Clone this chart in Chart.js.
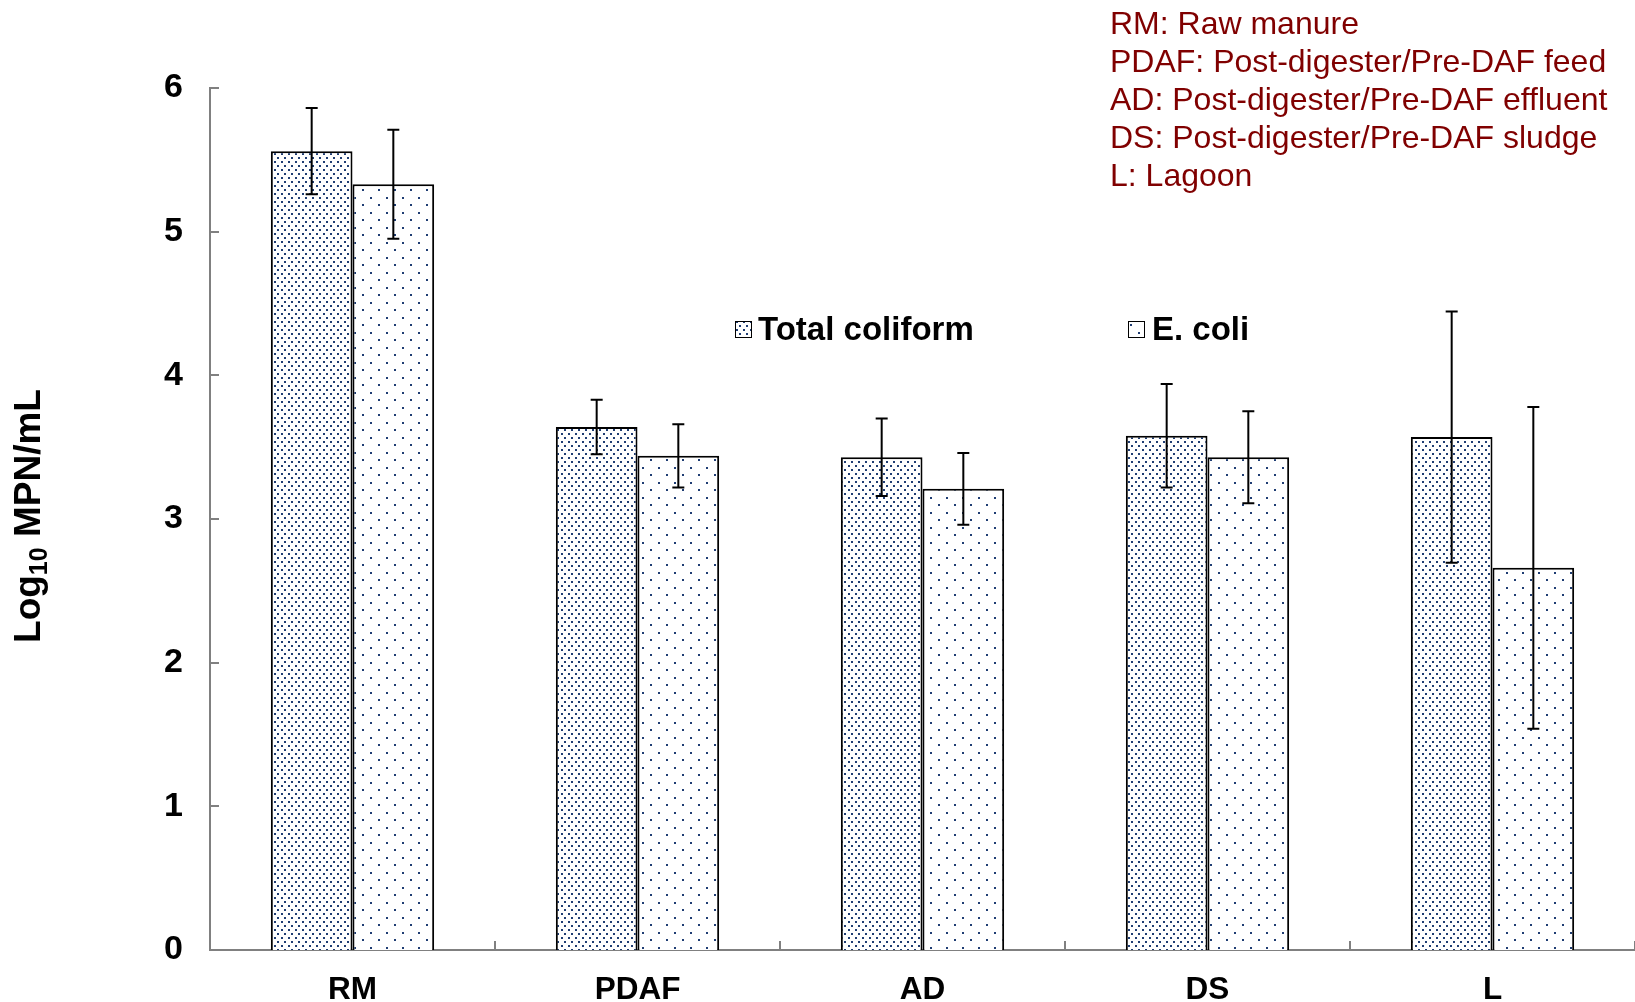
<!DOCTYPE html>
<html>
<head>
<meta charset="utf-8">
<script src="https://cdn.jsdelivr.net/npm/chart.js@4"></script>
<style>
html,body{margin:0;padding:0;background:#fff;}
canvas{display:block;}
</style>
</head>
<body>
<canvas id="c" width="1635" height="1002"></canvas>
<script>
const categories = ['RM', 'PDAF', 'AD', 'DS', 'L'];
const seriesNames = ['Total coliform', 'E. coli'];
const totalColiform = [5.56, 3.64, 3.43, 3.58, 3.57];
const totalColiformErr = [0.30, 0.19, 0.27, 0.36, 0.875];
const eColi = [5.33, 3.44, 3.21, 3.43, 2.66];
const eColiErr = [0.38, 0.22, 0.25, 0.32, 1.12];
const yMin = 0, yMax = 6, yStep = 1;
const yTitleMain = 'Log', yTitleSub = '10', yTitleRest = ' MPN/mL';
const notes = [
  'RM: Raw manure',
  'PDAF: Post-digester/Pre-DAF feed',
  'AD: Post-digester/Pre-DAF effluent',
  'DS: Post-digester/Pre-DAF sludge',
  'L: Lagoon'
];

const FONT = '"Liberation Sans", Arial, Helvetica, sans-serif';
const DOT = '#1f3d73';

function makePattern(w, h, dots) {
  const c = document.createElement('canvas');
  c.width = w; c.height = h;
  const g = c.getContext('2d');
  g.fillStyle = '#fff';
  g.fillRect(0, 0, w, h);
  g.fillStyle = DOT;
  dots.forEach(d => g.fillRect(d[0], d[1], 2, 2));
  return document.getElementById('c').getContext('2d').createPattern(c, 'repeat');
}
const densePattern = makePattern(14, 8, [[1,1],[8,1],[4,5],[11,5]]);
const sparsePattern = makePattern(16, 15, [[2,2],[10,9]]);

const errors = [totalColiformErr, eColiErr];
const patterns = [densePattern, sparsePattern];

const customDraw = {
  id: 'customDraw',
  afterDatasetsDraw(chart) {
    const ctx = chart.ctx;
    const ys = chart.scales.y;
    ctx.save();
    ctx.strokeStyle = '#000';
    ctx.lineWidth = 2;
    chart.data.datasets.forEach((ds, d) => {
      const meta = chart.getDatasetMeta(d);
      meta.data.forEach((bar, i) => {
        const v = ds.data[i], e = errors[d][i];
        const yt = ys.getPixelForValue(v + e);
        const yb = ys.getPixelForValue(v - e);
        const x = bar.x;
        ctx.beginPath();
        ctx.moveTo(x, yt); ctx.lineTo(x, yb);
        ctx.moveTo(x - 6, yt); ctx.lineTo(x + 6, yt);
        ctx.moveTo(x - 6, yb); ctx.lineTo(x + 6, yb);
        ctx.stroke();
      });
    });
    ctx.restore();
  },
  afterDraw(chart) {
    const ctx = chart.ctx;
    const ys = chart.scales.y, xs = chart.scales.x;
    const area = chart.chartArea;
    ctx.save();
    // inner tick marks
    ctx.strokeStyle = '#808080';
    ctx.lineWidth = 2;
    ctx.beginPath();
    for (let v = yMin; v <= yMax; v += yStep) {
      const y = Math.round(ys.getPixelForValue(v));
      ctx.moveTo(area.left, y); ctx.lineTo(area.left + 9, y);
    }
    const catW = (area.right - area.left) / categories.length;
    categories.forEach((c, i) => {
      const x = Math.round(xs.getPixelForValue(i) + catW / 2);
      ctx.moveTo(x, area.bottom); ctx.lineTo(x, area.bottom - 9);
    });
    ctx.stroke();

    // legend
    const legendPos = [[735, 758], [1128, 1152]];
    ctx.font = 'bold 33px ' + FONT;
    ctx.textBaseline = 'alphabetic';
    ctx.textAlign = 'left';
    seriesNames.forEach((name, d) => {
      const bx = legendPos[d][0];
      ctx.fillStyle = patterns[d];
      ctx.fillRect(bx, 321, 16, 16);
      ctx.strokeStyle = '#000';
      ctx.lineWidth = 1;
      ctx.strokeRect(bx + 0.5, 321.5, 16, 16);
      ctx.fillStyle = '#000';
      ctx.fillText(name, legendPos[d][1], 340);
    });

    // y title with subscript
    ctx.translate(29, 516);
    ctx.rotate(-Math.PI / 2);
    const fMain = 'bold 37px ' + FONT, fSub = 'bold 25px ' + FONT;
    ctx.font = fMain; const w1 = ctx.measureText(yTitleMain).width;
    const w3 = ctx.measureText(yTitleRest).width;
    ctx.font = fSub; const w2 = ctx.measureText(yTitleSub).width;
    let x0 = -(w1 + w2 + w3) / 2;
    const base = 11;
    ctx.fillStyle = '#000';
    ctx.font = fMain; ctx.fillText(yTitleMain, x0, base); x0 += w1;
    ctx.font = fSub; ctx.fillText(yTitleSub, x0, base + 7); x0 += w2;
    ctx.font = fMain; ctx.fillText(yTitleRest, x0, base);
    ctx.setTransform(1, 0, 0, 1, 0, 0);

    // notes
    ctx.font = '32px ' + FONT;
    ctx.fillStyle = '#800000';
    notes.forEach((t, i) => ctx.fillText(t, 1110, 33.5 + i * 38));
    ctx.restore();
  }
};

new Chart(document.getElementById('c'), {
  type: 'bar',
  data: {
    labels: categories,
    datasets: [
      { label: seriesNames[0], data: totalColiform, backgroundColor: densePattern, borderColor: '#000', borderWidth: 2 },
      { label: seriesNames[1], data: eColi, backgroundColor: sparsePattern, borderColor: '#000', borderWidth: 2 }
    ]
  },
  options: {
    responsive: false,
    devicePixelRatio: 1,
    animation: false,
    categoryPercentage: 0.573,
    barPercentage: 1.0,
    layout: { padding: { top: 88, left: 0, right: 0, bottom: 0 } },
    plugins: { legend: { display: false }, tooltip: { enabled: false } },
    scales: {
      x: {
        grid: { display: false, drawTicks: false },
        border: { display: true, color: '#808080', width: 2 },
        ticks: { color: '#000', font: { family: FONT, size: 31.5, weight: 'bold' }, padding: 21 },
        afterFit(s) { s.height = 52; }
      },
      y: {
        min: yMin, max: yMax,
        grid: { display: false, drawTicks: false },
        border: { display: true, color: '#808080', width: 2 },
        ticks: { stepSize: yStep, color: '#000', font: { family: FONT, size: 34, weight: 'bold' }, padding: 27 },
        afterFit(s) { s.width = 210; }
      }
    }
  },
  plugins: [customDraw]
});
</script>
</body>
</html>
